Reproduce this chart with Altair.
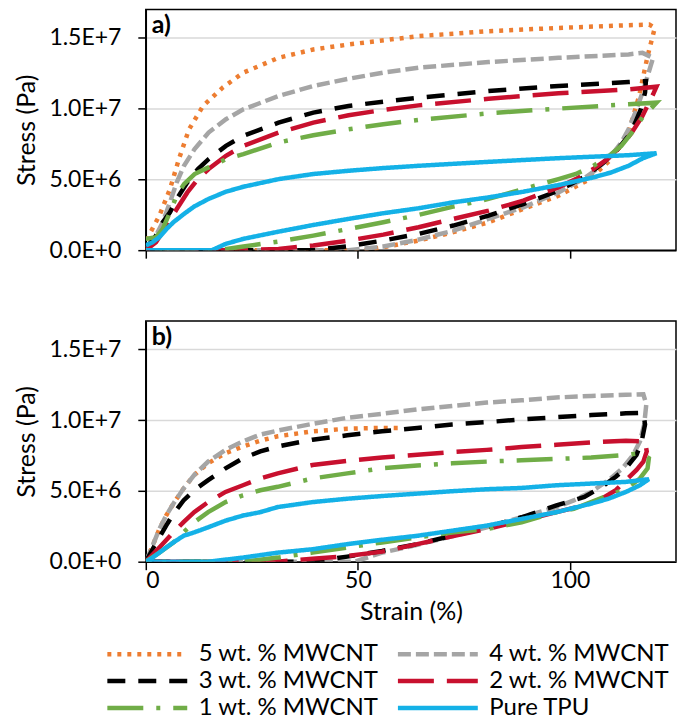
import altair as alt
import pandas as pd

SERIES = ["5 wt. % MWCNT", "4 wt. % MWCNT", "3 wt. % MWCNT",
          "2 wt. % MWCNT", "1 wt. % MWCNT", "Pure TPU"]
COLORS = ["#ED7D31", "#A5A5A5", "#000000", "#C8102E", "#70AD47", "#14B1E7"]
DASHES = [[4, 6], [13, 5], [18, 13], [36, 13], [36, 13, 4, 13], [1, 0]]

# ---------------- panel a) (strain %, stress MPa) ----------------
a5_strain = [0, 0.7, 3.2, 5.7, 7.8, 10.2, 13.5, 18.1, 23.0, 31.3, 39.5, 47.8, 64.3, 80.8, 97.3, 113.8, 118.7, 120.0,
             118.3, 116.3, 113.8, 109.7, 104.7, 97.3, 89.0, 80.8, 72.5, 64.3, 56.0, 51.9, 0]
a5_stress = [0, 1.03, 2.44, 4.32, 6.43, 8.54, 10.19, 11.48, 12.54, 13.59, 14.18, 14.53, 15.12, 15.47, 15.70, 15.89, 15.94, 15.70,
             13.71, 10.89, 8.31, 6.43, 5.02, 3.85, 2.91, 1.97, 1.27, 0.68, 0.21, 0, 0]

a4_strain = [0, 2.4, 4.0, 5.7, 7.3, 9.0, 11.5, 14.8, 18.9, 23.0, 31.3, 39.5, 47.8, 56.0, 64.3, 80.8, 97.3, 113.8, 117.1, 119.6,
             118.3, 117.1, 115.4, 113.8, 112.1, 109.7, 106.4, 103.1, 97.3, 89.0, 80.8, 72.5, 64.3, 56.0, 47.8, 0]
a4_stress = [0.21, 1.03, 1.97, 3.38, 4.79, 5.96, 7.14, 8.31, 9.25, 9.95, 10.89, 11.6, 12.11, 12.54, 12.89, 13.29, 13.59, 13.83, 13.94, 13.59,
             12.3, 11.13, 9.72, 8.54, 7.61, 6.67, 5.73, 5.02, 4.08, 3.03, 2.21, 1.38, 0.75, 0.26, 0, 0]

a3_strain = [0, 2.4, 4.0, 5.7, 7.3, 9.8, 12.3, 14.8, 18.9, 23.0, 31.3, 39.5, 47.8, 56.0, 64.3, 80.8, 97.3, 113.8, 117.9,
             117.7, 116.7, 115.4, 113.8, 111.3, 108.0, 103.9, 97.3, 89.0, 80.8, 72.5, 64.3, 56.0, 47.8, 39.5, 0]
a3_stress = [0.09, 1.03, 1.97, 2.68, 3.62, 4.79, 5.73, 6.43, 7.37, 8.08, 9.01, 9.72, 10.19, 10.49, 10.77, 11.24, 11.6, 11.88, 11.95,
             11.13, 9.95, 9.01, 8.08, 7.14, 6.2, 5.26, 4.2, 3.26, 2.44, 1.74, 1.15, 0.68, 0.28, 0, 0]

a2_strain = [0, 2.4, 4.9, 7.3, 9.8, 12.3, 14.8, 18.9, 23.0, 31.3, 39.5, 47.8, 56.0, 64.3, 80.8, 97.3, 113.8, 120.4,
             119.6, 117.1, 114.6, 112.1, 108.8, 105.5, 101.4, 97.3, 89.0, 80.8, 72.5, 64.3, 56.0, 47.8, 39.5, 31.3, 23.0, 0]
a2_stress = [0, 0.56, 1.74, 2.91, 4.08, 5.02, 5.73, 6.67, 7.37, 8.31, 9.01, 9.53, 9.91, 10.23, 10.7, 11.08, 11.36, 11.55,
             11.01, 9.48, 8.31, 7.37, 6.43, 5.73, 5.02, 4.44, 3.5, 2.79, 2.21, 1.62, 1.1, 0.68, 0.33, 0.09, 0, 0]

a1_strain = [0, 2.4, 4.0, 5.7, 7.3, 9.0, 11.5, 14.8, 18.9, 23.0, 31.3, 39.5, 47.8, 56.0, 64.3, 80.8, 97.3, 113.8, 120.4,
             117.1, 114.6, 112.1, 108.8, 105.5, 101.4, 97.3, 89.0, 80.8, 72.5, 64.3, 56.0, 47.8, 39.5, 31.3, 23.0, 17.2, 0]
a1_stress = [0.8, 0.92, 1.5, 2.68, 3.85, 4.67, 5.38, 5.85, 6.43, 6.78, 7.61, 8.12, 8.54, 8.9, 9.2, 9.67, 10.0, 10.31, 10.42,
             9.37, 8.31, 7.37, 6.55, 5.96, 5.38, 5.02, 4.32, 3.62, 3.08, 2.49, 1.97, 1.5, 1.03, 0.61, 0.26, 0, 0]

atpu_strain = [0, 1.6, 3.2, 4.9, 6.5, 9.0, 11.5, 14.8, 18.9, 23.0, 31.3, 39.5, 47.8, 56.0, 64.3, 80.8, 97.3, 113.8, 120.4,
               117.1, 113.8, 109.7, 105.5, 97.3, 89.0, 80.8, 72.5, 64.3, 56.0, 47.8, 39.5, 31.3, 23.0, 18.9, 15.6, 0]
atpu_stress = [0.33, 0.56, 0.92, 1.5, 1.97, 2.56, 3.1, 3.62, 4.13, 4.48, 5.02, 5.38, 5.61, 5.8, 5.96, 6.24, 6.5, 6.71, 6.85,
               6.48, 5.96, 5.49, 5.14, 4.6, 4.13, 3.73, 3.38, 2.96, 2.61, 2.21, 1.78, 1.31, 0.8, 0.45, 0, 0]

# ---------------- panel b) ----------------
b5_strain = [0, 1.6, 3.2, 4.8, 6.5, 8.9, 11.4, 14.7, 18.8, 22.9, 27.0, 31.1, 39.3, 47.5, 55.7, 60.7]
b5_stress = [0, 1.12, 2.31, 3.26, 4.1, 5.17, 6.12, 6.95, 7.67, 8.14, 8.55, 8.86, 9.21, 9.4, 9.45, 9.45]

b4_strain = [0, 1.6, 3.2, 4.8, 6.5, 8.9, 11.4, 14.7, 18.8, 22.9, 27.0, 31.1, 39.3, 47.5, 55.7, 64.0, 72.2, 80.4, 88.6, 96.8,
             105.0, 113.2, 117.3, 118.0, 117.5, 116.5, 114.9, 112.4, 109.1, 105.0, 100.9, 96.8, 88.6, 80.4, 72.2, 64.0,
             55.7, 49.2, 0]
b4_stress = [0, 1.12, 2.31, 3.26, 4.1, 5.17, 6.12, 7.07, 7.9, 8.5, 8.98, 9.26, 9.74, 10.17, 10.45, 10.76, 11.0, 11.24, 11.4, 11.6,
             11.71, 11.79, 11.83, 11.12, 9.69, 8.5, 7.55, 6.6, 5.76, 4.93, 4.33, 3.86, 3.14, 2.43, 1.79, 1.19,
             0.64, 0, 0]

b3_strain = [0, 1.6, 3.2, 4.8, 6.5, 8.9, 11.4, 14.7, 18.8, 22.9, 27.0, 31.1, 39.3, 47.5, 55.7, 64.0, 72.2, 80.4, 88.6, 96.8,
             105.0, 113.2, 117.3, 117.7, 116.9, 115.7, 113.2, 110.8, 107.5, 103.4, 96.8, 88.6, 80.4, 72.2, 64.0, 55.7,
             47.5, 39.3, 0]
b3_stress = [0, 0.88, 1.71, 2.55, 3.38, 4.33, 5.05, 5.76, 6.6, 7.31, 7.79, 8.14, 8.62, 8.93, 9.21, 9.45, 9.69, 9.86, 10.05, 10.21,
             10.36, 10.48, 10.52, 9.69, 8.5, 7.55, 6.6, 6.0, 5.29, 4.57, 3.98, 3.14, 2.43, 1.83, 1.24, 0.76,
             0.36, 0, 0]

b2_strain = [0, 3.2, 6.5, 8.9, 11.4, 14.7, 18.8, 22.9, 27.0, 31.1, 39.3, 47.5, 55.7, 64.0, 72.2, 80.4, 88.6, 96.8, 105.0,
             113.2, 117.7, 118.1, 117.3, 115.7, 113.2, 110.8, 107.5, 103.4, 96.8, 88.6, 80.4, 72.2, 64.0, 55.7, 47.5,
             39.3, 31.1, 0]
b2_stress = [0, 1.0, 2.07, 2.79, 3.5, 4.21, 4.93, 5.4, 5.88, 6.24, 6.83, 7.12, 7.36, 7.55, 7.74, 7.9, 8.1, 8.26, 8.43,
             8.55, 8.5, 7.79, 7.07, 6.48, 5.76, 5.05, 4.45, 3.98, 3.5, 2.9, 2.31, 1.79, 1.24, 0.71, 0.4,
             0.21, 0, 0]

b1_strain = [0, 3.2, 6.5, 8.9, 11.4, 14.7, 18.8, 22.9, 27.0, 31.1, 39.3, 47.5, 55.7, 64.0, 72.2, 80.4, 88.6, 96.8, 105.0,
             113.2, 116.5, 118.6, 118.3, 116.5, 114.9, 112.4, 109.1, 105.0, 100.9, 96.8, 88.6, 80.4, 72.2, 64.0, 55.7,
             47.5, 39.3, 31.1, 22.9, 0]
b1_stress = [0, 0.64, 1.36, 2.07, 2.79, 3.5, 4.21, 4.69, 5.05, 5.29, 5.88, 6.24, 6.6, 6.79, 6.95, 7.07, 7.17, 7.26, 7.36,
             7.55, 7.67, 7.31, 6.6, 5.88, 5.52, 5.05, 4.69, 4.21, 3.74, 3.5, 2.79, 2.31, 2.07, 1.71, 1.36,
             1.0, 0.64, 0.29, 0, 0]

btpu_strain = [0, 1.6, 3.2, 4.8, 6.5, 8.9, 11.4, 14.7, 18.8, 22.9, 27.0, 31.1, 39.3, 47.5, 55.7, 64.0, 72.2, 80.4, 88.6,
               96.8, 105.0, 113.2, 118.6, 116.5, 113.2, 109.1, 105.0, 96.8, 88.6, 80.4, 72.2, 64.0, 55.7, 47.5, 39.3,
               31.1, 22.9, 14.7, 0]
btpu_stress = [0, 0.29, 0.64, 1.0, 1.36, 1.83, 2.07, 2.43, 2.9, 3.26, 3.5, 3.86, 4.21, 4.45, 4.64, 4.81, 4.98, 5.12, 5.21,
               5.4, 5.52, 5.64, 5.83, 5.4, 4.93, 4.45, 4.1, 3.5, 3.02, 2.55, 2.19, 1.83, 1.55, 1.24, 0.88,
               0.64, 0.29, 0, 0]

PANEL_A = [(a5_strain, a5_stress), (a4_strain, a4_stress), (a3_strain, a3_stress),
           (a2_strain, a2_stress), (a1_strain, a1_stress), (atpu_strain, atpu_stress)]
PANEL_B = [(b5_strain, b5_stress), (b4_strain, b4_stress), (b3_strain, b3_stress),
           (b2_strain, b2_stress), (b1_strain, b1_stress), (btpu_strain, btpu_stress)]

X_DOMAIN = [0, 125]
Y_DOMAIN = [0, 1.7e7]


def table(panel):
    rows = []
    for name, (xs, ys) in zip(SERIES, panel):
        for i, (x, y) in enumerate(zip(xs, ys)):
            rows.append({"series": name, "strain": x, "stress": y * 1e6, "idx": i})
    return pd.DataFrame(rows)


FONT = "Lato"
W, H = 531, 241


def make_panel(panel, label, bottom):
    df = table(panel)
    xscale = alt.Scale(domain=X_DOMAIN, nice=False, zero=False)
    yscale = alt.Scale(domain=Y_DOMAIN, nice=False)
    xaxis = alt.Axis(values=[0, 50, 100], labels=bottom, title="Strain (%)" if bottom else None,
                     grid=False, tickSize=8, labelPadding=0, titlePadding=7)
    yaxis = alt.Axis(values=[0, 5e6, 1e7, 1.5e7], title="Stress (Pa)",
                     labelExpr="replace(format(datum.value, '.1e'), 'e', 'E')",
                     grid=True, tickSize=8, labelPadding=17, titlePadding=9)
    # legend symbol: a horizontal stroke 80 px long (path spans -1..7 units of 10 px)
    leg = alt.Legend(title=None, orient="none", legendX=-41, legendY=633, columns=2,
                     direction="horizontal",
                     symbolType="M-1,0L7,0", symbolSize=400, symbolStrokeWidth=4.5,
                     labelFont=FONT, labelFontSize=24, labelColor="black", labelOffset=69,
                     columnPadding=9, rowPadding=2, labelLimit=300)
    lines = alt.Chart(df).mark_line(strokeWidth=4.5, clip=True).encode(
        x=alt.X("strain:Q", scale=xscale, axis=xaxis),
        y=alt.Y("stress:Q", scale=yscale, axis=yaxis),
        color=alt.Color("series:N", scale=alt.Scale(domain=SERIES, range=COLORS), legend=leg),
        strokeDash=alt.StrokeDash("series:N", scale=alt.Scale(domain=SERIES, range=DASHES), legend=leg),
        order=alt.Order("idx:Q"),
    )
    txt = alt.Chart(pd.DataFrame({"t": [label]})).mark_text(
        align="left", baseline="top", font=FONT, fontSize=25, fontWeight="bold", color="black", dx=6, dy=4
    ).encode(
        x=alt.X(datum=X_DOMAIN[0], scale=xscale),
        y=alt.Y(datum=Y_DOMAIN[1], scale=yscale),
        text="t:N",
    )
    return alt.layer(lines, txt).properties(width=W, height=H)


chart = alt.vconcat(
    make_panel(PANEL_A, "a)", False),
    make_panel(PANEL_B, "b)", True),
    spacing=57,
).properties(padding={"left": 6, "top": 0, "right": 0, "bottom": 0}, background="white").configure_view(
    stroke="black", strokeWidth=1.5
).configure_axis(
    labelFont=FONT, labelFontSize=23, labelColor="black",
    titleFont=FONT, titleFontSize=25, titleFontWeight="normal", titleColor="black",
    domainColor="black", domainWidth=1.5, tickColor="black", tickWidth=1.5,
    gridColor="#d9d9d9", gridWidth=1.5,
)

chart.save("out.html", embed_options={"renderer": "svg", "actions": False})
